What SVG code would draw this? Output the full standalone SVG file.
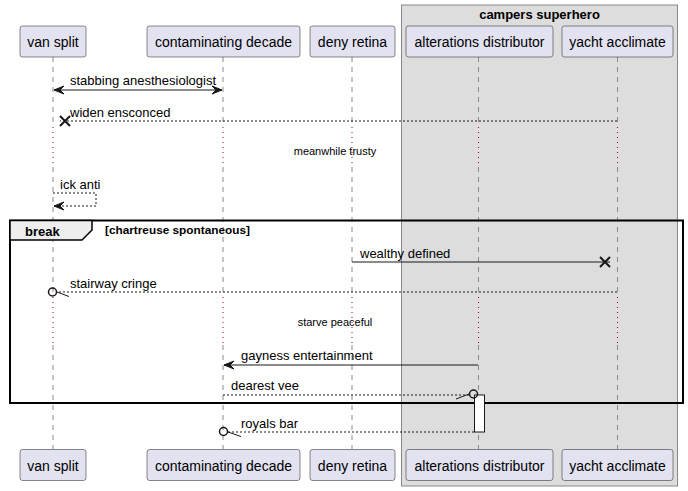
<svg xmlns="http://www.w3.org/2000/svg" width="688" height="491" viewBox="0 0 688 491">
<style>
.part rect{fill:#E2E2F0;stroke:#181818;stroke-width:0.5}
.part text{font-family:"Liberation Sans",Arial,sans-serif;font-size:14px;fill:#000;text-anchor:middle}
.life{stroke:#8A8A8A;stroke-width:1;stroke-dasharray:5 5;fill:none}
.delay{stroke:#A80036;stroke-width:1;stroke-dasharray:1 4;fill:none}
.msg{stroke:#181818;stroke-width:1;fill:none}
.dash{stroke-dasharray:2 2}
.lbl{font-family:"Liberation Sans",Arial,sans-serif;font-size:13px;fill:#000}
.small{font-family:"Liberation Sans",Arial,sans-serif;font-size:11px;fill:#000;text-anchor:middle}
.head{fill:#181818;stroke:#181818;stroke-width:1}
.x{stroke:#181818;stroke-width:2}
.circ{fill:none;stroke:#181818;stroke-width:1.5}
</style>
<g id="box-campers">
<rect x="401.5" y="5" width="276" height="481" fill="#DDDDDD" stroke="#888888" stroke-width="1"/>
<text x="539.5" y="19" font-family="Liberation Sans,Arial,sans-serif" font-size="13" font-weight="bold" text-anchor="middle">campers superhero</text>
</g>
<g id="lifelines">
<path class="life" d="M53 57V127M53 167V297M53 345V449"/>
<path class="delay" d="M53 127V167M53 297V345"/>
<path class="life" d="M223 57V127M223 167V297M223 345V449"/>
<path class="delay" d="M223 127V167M223 297V345"/>
<path class="life" d="M352 57V127M352 167V297M352 345V449"/>
<path class="delay" d="M352 127V167M352 297V345"/>
<path class="life" d="M478.5 57V127M478.5 167V297M478.5 345V449"/>
<path class="delay" d="M478.5 127V167M478.5 297V345"/>
<path class="life" d="M617.5 57V127M617.5 167V297M617.5 345V449"/>
<path class="delay" d="M617.5 127V167M617.5 297V345"/>
</g>
<g id="p-van-split" class="part">
<rect x="20" y="26" width="66" height="31" rx="2.5"/><text x="53" y="47">van split</text>
<rect x="20" y="449.5" width="66" height="31" rx="2.5"/><text x="53" y="470.5">van split</text>
</g>
<g id="p-contaminating-decade" class="part">
<rect x="147" y="26" width="153" height="31" rx="2.5"/><text x="223.5" y="47">contaminating decade</text>
<rect x="147" y="449.5" width="153" height="31" rx="2.5"/><text x="223.5" y="470.5">contaminating decade</text>
</g>
<g id="p-deny-retina" class="part">
<rect x="310" y="26" width="85" height="31" rx="2.5"/><text x="352.5" y="47">deny retina</text>
<rect x="310" y="449.5" width="85" height="31" rx="2.5"/><text x="352.5" y="470.5">deny retina</text>
</g>
<g id="p-alterations-distributor" class="part">
<rect x="406" y="26" width="147" height="31" rx="2.5"/><text x="479.5" y="47">alterations distributor</text>
<rect x="406" y="449.5" width="147" height="31" rx="2.5"/><text x="479.5" y="470.5">alterations distributor</text>
</g>
<g id="p-yacht-acclimate" class="part">
<rect x="562" y="26" width="111" height="31" rx="2.5"/><text x="617.5" y="47">yacht acclimate</text>
<rect x="562" y="449.5" width="111" height="31" rx="2.5"/><text x="617.5" y="470.5">yacht acclimate</text>
</g>
<g id="frame-break">
<rect x="10" y="220.5" width="673" height="182.5" fill="none" stroke="#000" stroke-width="2"/>
<path d="M10 220.5H92V230L82 240H10Z" fill="#EEEEEE" stroke="#000" stroke-width="1.5"/>
<text x="25" y="236" font-family="Liberation Sans,Arial,sans-serif" font-size="13" font-weight="bold">break</text>
<text x="105" y="234" font-family="Liberation Sans,Arial,sans-serif" font-size="11.8" font-weight="bold">[chartreuse spontaneous]</text>
</g>
<g id="activation">
<rect x="474.5" y="395" width="10" height="37" fill="#FFFFFF" stroke="#181818" stroke-width="1"/>
</g>
<g id="connectors">
<line class="msg" x1="54" y1="90" x2="222" y2="90"/>
<polygon class="head" points="54,90 64,86 60,90 64,94"/>
<polygon class="head" points="222,90 212,86 216,90 212,94"/>
<text class="lbl" x="70" y="85">stabbing anesthesiologist</text>
<line class="msg dash" x1="617" y1="121" x2="60" y2="121"/>
<path class="x" d="M60 116L70 126M70 116L60 126"/>
<text class="lbl" x="70" y="117">widen ensconced</text>
<text class="small" x="335" y="155">meanwhile trusty</text>
<path class="msg dash" d="M53 193H96V206H54"/>
<polygon class="head" points="54,206 64,202 60,206 64,210"/>
<text class="lbl" x="60" y="189">ick anti</text>
<line class="msg" x1="352" y1="262" x2="610" y2="262"/>
<path class="x" d="M600 257L610 267M610 257L600 267"/>
<text class="lbl" x="360" y="258">wealthy defined</text>
<line class="msg dash" x1="617" y1="292" x2="57" y2="292"/>
<circle class="circ" cx="52.5" cy="292" r="4"/>
<line class="msg" x1="57" y1="292" x2="69" y2="296.5"/>
<text class="lbl" x="70" y="288">stairway cringe</text>
<text class="small" x="335" y="326">starve peaceful</text>
<line class="msg" x1="478" y1="365" x2="224" y2="365"/>
<polygon class="head" points="224,365 234,361 230,365 234,369"/>
<text class="lbl" x="241" y="360">gayness entertainment</text>
<line class="msg dash" x1="223" y1="395" x2="469" y2="395"/>
<circle class="circ" cx="473.5" cy="394" r="4"/>
<line class="msg" x1="469" y1="394" x2="456" y2="399"/>
<text class="lbl" x="231" y="390">dearest vee</text>
<line class="msg dash" x1="474" y1="432" x2="228" y2="432"/>
<circle class="circ" cx="223.5" cy="431.5" r="4"/>
<line class="msg" x1="228" y1="432" x2="241" y2="436.5"/>
<text class="lbl" x="241" y="428">royals bar</text>
</g>
</svg>
